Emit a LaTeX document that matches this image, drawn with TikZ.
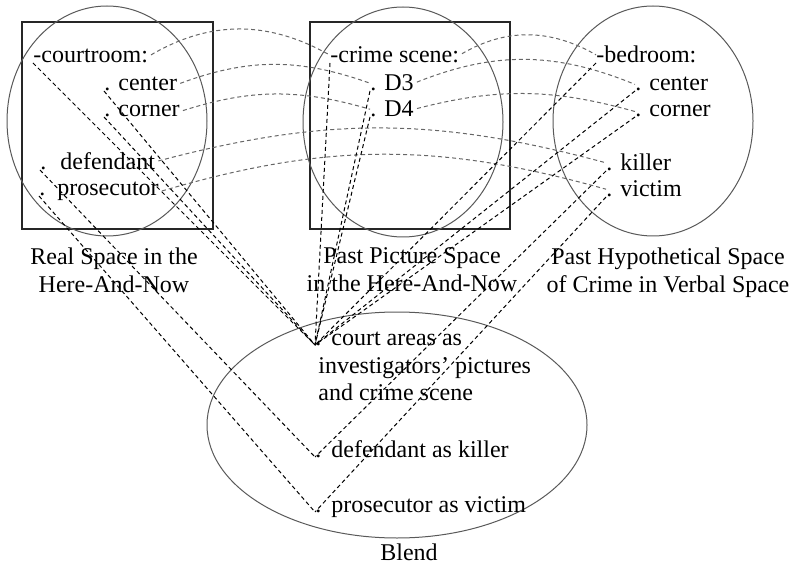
\documentclass[tikz,border=0pt]{standalone}
\usepackage{fontspec}
\setmainfont{Liberation Serif}

\begin{document}
\begin{tikzpicture}[x=0.5pt,y=-0.5pt,
    every node/.style={inner sep=0pt,font=\fontsize{12}{14}\selectfont},
    item/.style={anchor=base west},
    caption/.style={align=center,anchor=north},
    spacebox/.style={draw=black!85,line width=1.4pt},
    spaceround/.style={draw=black!65,line width=0.5pt},
    crossmap/.style={draw=black!60,dash pattern=on 2pt off 1.5pt,line width=0.5pt,shorten <=1.5pt},
    blendmap/.style={draw=black,dash pattern=on 2pt off 1.5pt,line width=0.5pt}]
\useasboundingbox (0,0) rectangle (796,566);

\draw[spacebox] (22,22) rectangle (213,229);
\draw[spacebox] (310,22) rectangle (510,229);
\draw[spaceround] (107,121) ellipse [x radius=100,y radius=115];
\draw[spaceround] (403,122) ellipse [x radius=100,y radius=115];
\draw[spaceround] (653,121) ellipse [x radius=100,y radius=115];
\draw[spaceround] (397,425) ellipse [x radius=190,y radius=113];

\node[item] (court) at (33,63) {-courtroom:};
\node[item] (rcenter) at (104,91) {. center};
\node[item] (rcorner) at (104,117) {. corner};
\node[item] (defendant) at (40,170) {.\hspace{7pt}defendant};
\node[item] (prosecutor) at (39,196) {.\hspace{6pt}prosecutor};

\node[item] (crime) at (330,63) {-crime scene:};
\node[item] (dthree) at (370,91) {. D3};
\node[item] (dfour) at (370,117) {. D4};

\node[item] (bedroom) at (596,63) {-bedroom:};
\node[item] (bcenter) at (635,91) {. center};
\node[item] (bcorner) at (635,117) {. corner};
\node[item] (killer) at (606,171) {. killer};
\node[item] (victim) at (606,197) {. victim};

\node[item] (bcourt) at (315,345) {.\hspace{5pt}court areas as};
\node[item] (bpictures) at (318,373) {investigators’ pictures};
\node[item] (bscene) at (318,400) {and crime scene};
\node[item] (bdefkiller) at (315,457) {.\hspace{5pt}defendant as killer};
\node[item] (bprosvictim) at (315,512) {.\hspace{5pt}prosecutor as victim};

\node[caption] (realcap) at (114,247) {Real Space in the\\Here-And-Now};
\node[caption] (pictcap) at (412,247) {Past Picture Space\\in the Here-And-Now};
\node[caption] (hypocap) at (668,247) {Past Hypothetical Space\\of Crime in Verbal Space};
\node[anchor=base] (blendcap) at (409,560) {Blend};

\draw[crossmap] (court.east) to[bend left=30] (crime.west);
\draw[crossmap] (crime.east) to[bend left=30] (bedroom.west);
\draw[crossmap] (rcenter.east) to[bend left=20] (dthree.west);
\draw[crossmap] (dthree.east) to[bend left=22] (bcenter.west);
\draw[crossmap] (rcorner.east) to[bend left=17] (dfour.west);
\draw[crossmap] (dfour.east) to[bend left=15] (bcorner.west);
\draw[crossmap] (defendant.east) to[bend left=15] (killer.west);
\draw[crossmap] (prosecutor.east) to[bend left=16] (victim.west);

\foreach \src in {court,rcenter,rcorner,crime,dthree,dfour,bedroom,bcenter,bcorner}
    \draw[blendmap] (\src.base west) -- (bcourt.base west);
\draw[blendmap] (defendant.base west) -- (bdefkiller.base west);
\draw[blendmap] (killer.base west) -- (bdefkiller.base west);
\draw[blendmap] (prosecutor.base west) -- (bprosvictim.base west);
\draw[blendmap] (victim.base west) -- (bprosvictim.base west);
\end{tikzpicture}
\end{document}
